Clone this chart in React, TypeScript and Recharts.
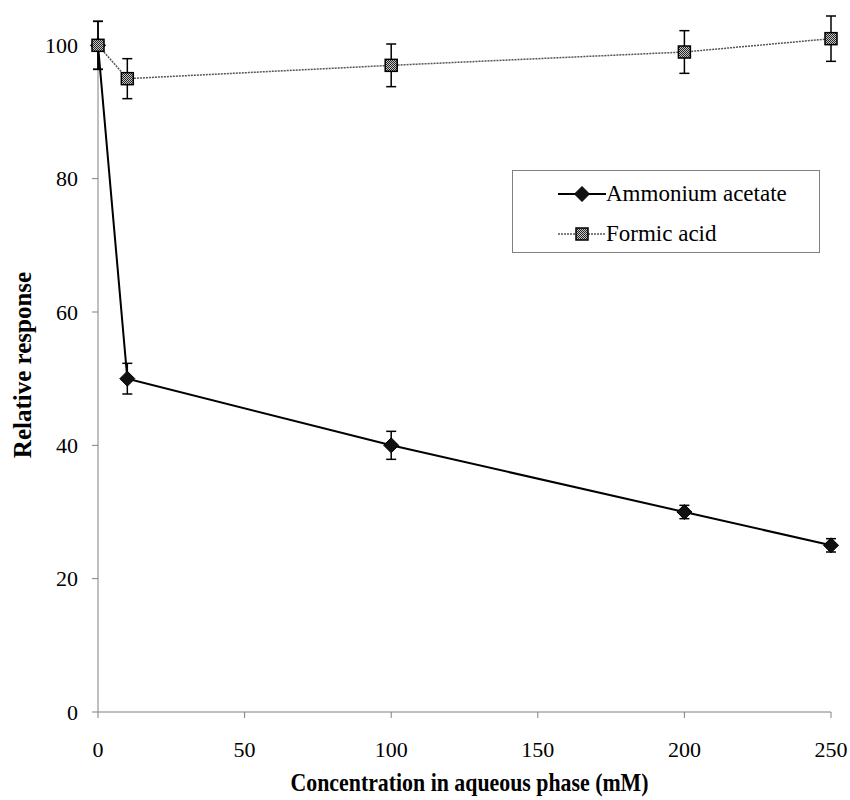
import React from 'react';
import { LineChart, Line, XAxis, YAxis, ErrorBar, Legend, Label, ReferenceLine } from 'recharts';

const concentrations = [0, 10, 100, 200, 250];
const ammoniumAcetate = [100, 50, 40, 30, 25];
const ammoniumAcetateErr = [3.6, 2.3, 2.1, 1.0, 1.0];
const formicAcid = [100, 95, 97, 99, 101];
const formicAcidErr = [3.6, 3.0, 3.2, 3.2, 3.4];
const xTicks = [0, 50, 100, 150, 200, 250];
const yTicks = [0, 20, 40, 60, 80, 100];

const data = concentrations.map((c, i) => ({
  conc: c,
  aa: ammoniumAcetate[i],
  aaErr: ammoniumAcetateErr[i],
  fa: formicAcid[i],
  faErr: formicAcidErr[i],
}));

const FONT = 'Liberation Serif, Times New Roman, serif';
const AXIS = '#808080';

const Diamond = (props: any) => {
  const { cx, cy } = props;
  if (cx == null || cy == null) return null;
  const r = 7.5;
  return (
    <polygon
      points={`${cx},${cy - r} ${cx + r},${cy} ${cx},${cy + r} ${cx - r},${cy}`}
      fill="#111"
      stroke="#000"
      strokeWidth={1}
    />
  );
};

const Square = (props: any) => {
  const { cx, cy } = props;
  if (cx == null || cy == null) return null;
  const r = 6;
  return <rect x={cx - r} y={cy - r} width={2 * r} height={2 * r} fill="url(#chk)" stroke="#000" strokeWidth={1.5} />;
};

const LegendBox = () => (
  <div
    style={{
      width: 306,
      height: 81,
      border: '1px solid #808080',
      background: '#fff',
      fontFamily: FONT,
      fontSize: 23,
      color: '#000',
      boxSizing: 'content-box',
    }}
  >
    <div style={{ display: 'flex', alignItems: 'center', height: 40, marginTop: 3, paddingLeft: 45 }}>
      <svg width={48} height={20} style={{ marginRight: 0 }}>
        <line x1={0} y1={10} x2={48} y2={10} stroke="#000" strokeWidth={2} />
        <polygon points="24,2.5 31.5,10 24,17.5 16.5,10" fill="#111" stroke="#000" />
      </svg>
      <span>Ammonium acetate</span>
    </div>
    <div style={{ display: 'flex', alignItems: 'center', height: 40, paddingLeft: 45 }}>
      <svg width={48} height={20} style={{ marginRight: 0 }}>
        <defs>
          <pattern id="chk2" width="2" height="2" patternUnits="userSpaceOnUse">
            <rect width="2" height="2" fill="#c8c8c8" />
            <rect width="1" height="1" fill="#222" />
            <rect x="1" y="1" width="1" height="1" fill="#222" />
          </pattern>
        </defs>
        <line x1={0} y1={10} x2={48} y2={10} stroke="#555" strokeWidth={1.5} strokeDasharray="2 1" />
        <rect x={18} y={4} width={12} height={12} fill="url(#chk2)" stroke="#000" strokeWidth={1.5} />
      </svg>
      <span>Formic acid</span>
    </div>
  </div>
);

const XTitle = (props: any) => {
  const vb = props.viewBox || {};
  return (
    <text
      x={vb.x + vb.width / 2 + 5}
      y={vb.y + 79}
      textAnchor="middle"
      fontFamily={FONT}
      fontWeight="bold"
      fontSize={26}
      textLength={358}
      lengthAdjust="spacingAndGlyphs"
      fill="#000"
    >
      Concentration in aqueous phase (mM)
    </text>
  );
};

const YTitle = (props: any) => {
  const vb = props.viewBox || {};
  const x = vb.x + 22;
  const y = vb.y + vb.height / 2 + 3;
  return (
    <text
      x={x}
      y={y}
      transform={`rotate(-90, ${x}, ${y})`}
      textAnchor="middle"
      dominantBaseline="central"
      fontFamily={FONT}
      fontWeight="bold"
      fontSize={25}
      fill="#000"
    >
      Relative response
    </text>
  );
};

export default function App() {
  return (
    <div style={{ position: 'absolute', left: 0, top: 0, background: '#fff' }}>
      <LineChart width={850} height={800} data={data} margin={{ top: 12, right: 19, bottom: 0, left: 0 }}>
        <defs>
          <pattern id="chk" width="2" height="2" patternUnits="userSpaceOnUse">
            <rect width="2" height="2" fill="#c8c8c8" />
            <rect width="1" height="1" fill="#222" />
            <rect x="1" y="1" width="1" height="1" fill="#222" />
          </pattern>
        </defs>
        <XAxis
          dataKey="conc"
          type="number"
          domain={[0, 250]}
          ticks={xTicks}
          height={88}
          stroke={AXIS}
          tickSize={6}
          tickMargin={23}
          tick={{ fill: '#000', fontFamily: FONT, fontSize: 22 }}
          tickLine={{ stroke: AXIS }}
        >
          <Label content={<XTitle />} />
        </XAxis>
        <YAxis
          type="number"
          domain={[0, 105]}
          ticks={yTicks}
          width={98}
          axisLine={false}
          tickSize={6}
          tickMargin={14}
          tick={{ fill: '#000', fontFamily: FONT, fontSize: 22 }}
          tickLine={{ stroke: AXIS }}
        >
          <Label content={<YTitle />} />
        </YAxis>
        <ReferenceLine segment={[{ x: 0, y: 0 }, { x: 0, y: 100 }]} stroke={AXIS} />
        <Legend
          layout="horizontal"
          verticalAlign="middle"
          align="center"
          content={<LegendBox />}
          wrapperStyle={{ left: 512, top: 170, width: 308, height: 83 }}
        />
        <Line
          dataKey="aa"
          name="Ammonium acetate"
          stroke="#000"
          strokeWidth={2}
          dot={<Diamond />}
          activeDot={false}
          isAnimationActive={false}
        >
          <ErrorBar dataKey="aaErr" direction="y" width={5} stroke="#000" strokeWidth={1.5} />
        </Line>
        <Line
          dataKey="fa"
          name="Formic acid"
          stroke="#555"
          strokeWidth={1.5}
          strokeDasharray="2 1"
          dot={<Square />}
          activeDot={false}
          isAnimationActive={false}
        >
          <ErrorBar dataKey="faErr" direction="y" width={5} stroke="#000" strokeWidth={1.5} />
        </Line>
      </LineChart>
    </div>
  );
}
